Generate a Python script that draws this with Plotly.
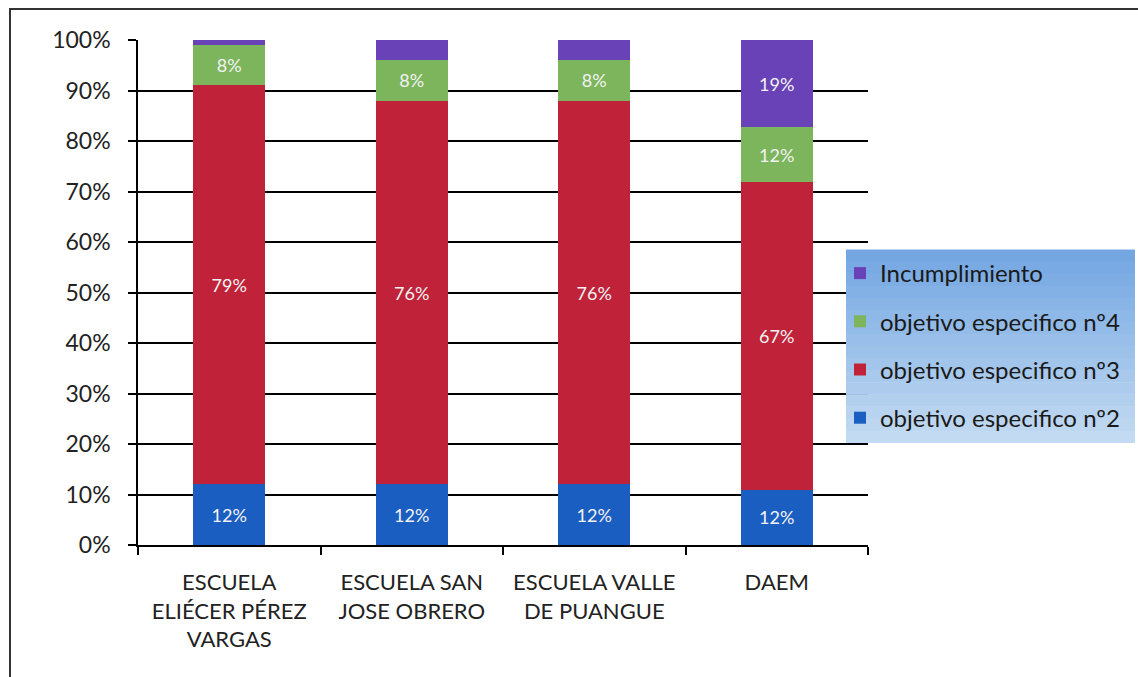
import plotly.graph_objects as go

categories = ["ESCUELA<br>ELIÉCER PÉREZ<br>VARGAS", "ESCUELA SAN<br>JOSE OBRERO",
              "ESCUELA VALLE<br>DE PUANGUE", "DAEM"]
obj2 = [12, 12, 12, 12]
obj3 = [79, 76, 76, 67]
obj4 = [8, 8, 8, 12]
incumpl = [1, 4, 4, 19]

series = [
    ("objetivo especifico nº2", obj2, "#1B5EC2"),
    ("objetivo especifico nº3", obj3, "#C0223A"),
    ("objetivo especifico nº4", obj4, "#7CB55C"),
    ("Incumplimiento", incumpl, "#6842B6"),
]

W, H = 1138, 677
L, R, T, B = 138, 270, 40, 132
PW, PH = W - L - R, H - T - B

def px(x):
    return (x - L) / PW

def py(y):
    return (H - B - y) / PH

fig = go.Figure()
for i, (name, vals, col) in enumerate(series):
    fig.add_trace(go.Bar(
        x=categories, y=vals, name=name, marker=dict(color=col, line=dict(width=0)),
        text=[f"{v}%" if v >= 5 else "" for v in vals],
        textposition="inside", insidetextanchor="middle", textangle=0,
        textfont=dict(family="Lato", size=18, color="#F2F2F2"),
        constraintext="none", legendgroup=f"g{i}", legendrank=len(series) - i,
    ))

shapes = []
# legend background gradient
top, bot, x0, x1 = 250, 443, 846, 1135
n = 16
c0 = (0x74, 0xA7, 0xE2)
c1 = (0xC2, 0xDA, 0xF2)
for k in range(n):
    t = k / (n - 1)
    c = tuple(int(c0[j] + (c1[j] - c0[j]) * t) for j in range(3))
    ya = top + (bot - top) * k / n
    yb = top + (bot - top) * (k + 1) / n
    shapes.append(dict(type="rect", xref="paper", yref="paper",
                       x0=px(x0), x1=px(x1), y0=py(yb), y1=py(ya) + 0.001,
                       fillcolor="rgb(%d,%d,%d)" % c, line=dict(width=0), layer="above"))
# outer frame
shapes.append(dict(type="rect", xref="paper", yref="paper",
                   x0=px(10), x1=px(1150), y0=py(700), y1=py(9),
                   fillcolor="rgba(0,0,0,0)", line=dict(color="#333", width=2)))

fig.update_layout(
    width=W, height=H, barmode="stack", barnorm="percent", bargap=0.605,
    paper_bgcolor="white", plot_bgcolor="white",
    margin=dict(l=L, r=R, t=T, b=B),
    font=dict(family="Lato", size=22, color="#222"),
    shapes=shapes,
    legend=dict(x=px(840), xanchor="left", y=py(251), yanchor="top",
                traceorder="grouped", tracegroupgap=14,
                bgcolor="rgba(0,0,0,0)", font=dict(family="Lato", size=24, color="#1a1a1a")),
    xaxis=dict(showline=True, linecolor="black", linewidth=1.5, ticks="outside",
               tickson="boundaries", ticklen=8, tickcolor="black", tickwidth=1.5,
               ticklabelstandoff=17,
               showgrid=False, tickfont=dict(family="Lato", size=22, color="#222")),
    yaxis=dict(range=[0, 100], dtick=10, ticksuffix="%", showline=True, linecolor="black",
               linewidth=1.5, ticks="outside", ticklen=8, tickcolor="black", tickwidth=1.5,
               ticklabelstandoff=13,
               showgrid=True, gridcolor="black", gridwidth=1.5, zeroline=False,
               tickfont=dict(family="Lato", size=23, color="#222")),
    showlegend=True,
)

fig.write_html("out.html", config={"displayModeBar": False},
               post_script="document.body.style.margin='0px';")
